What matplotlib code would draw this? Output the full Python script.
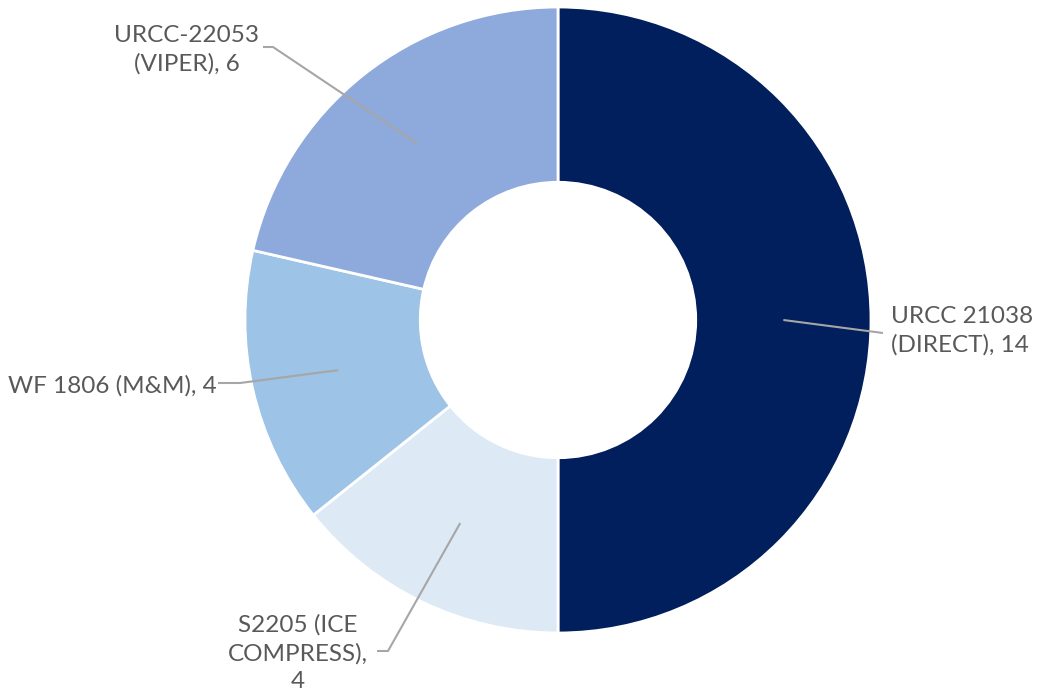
import numpy as np
import matplotlib.pyplot as plt

# donut: value per trial, drawn clockwise from 12 o'clock
labels = ["URCC 21038\n(DIRECT), 14", "S2205 (ICE\nCOMPRESS),\n4", "WF 1806 (M&M), 4", "URCC-22053\n(VIPER), 6"]
values = [14, 4, 4, 6]
colors = ["#001F5C", "#DDEAF6", "#9DC3E6", "#8EA9DB"]

W, H = 1039, 694
cx, cy, R = 558, 320, 313  # pie center / radius in pixels

def px(x, y):
    # pixel position -> data units (pie radius = 1)
    return (x - cx) / R, (cy - y) / R

fig = plt.figure(figsize=(W / 100, H / 100), dpi=100)
ax = fig.add_axes([0, 0, 1, 1])

wedges, _ = ax.pie(values, colors=colors, startangle=90, counterclock=False,
                   radius=1, wedgeprops=dict(width=0.56, edgecolor="white", linewidth=2))

# pie() resets limits, so set them afterwards
ax.set_xlim(-cx / R, (W - cx) / R)
ax.set_ylim((cy - H) / R, cy / R)
ax.set_aspect("equal")
ax.axis("off")

# label text spots and leader elbows (pixels)
text_pos = [(891, 331), (298, 653), (112, 386), (187, 50)]
elbow = [(883, 333), (388, 651), (240, 383), (273, 47)]
line_end = [(883, 333), (377, 651), (218, 383), (263, 47)]
align = ["left", "center", "center", "center"]

for w, lab, tp, el, le, ha in zip(wedges, labels, text_pos, elbow, line_end, align):
    ang = np.deg2rad((w.theta1 + w.theta2) / 2)
    r = 0.72
    x0, y0 = r * np.cos(ang), r * np.sin(ang)
    ex, ey = px(*el)
    lx, ly = px(*le)
    ax.plot([x0, ex, lx], [y0, ey, ly], color="#A6A6A6", lw=1.5, solid_capstyle="butt")
    tx, ty = px(*tp)
    ax.text(tx, ty, lab, ha=ha, va="center", multialignment=ha,
            fontsize=17.5, color="#595959", family="Lato", linespacing=1.4)

fig.savefig("out.png", dpi=100)
